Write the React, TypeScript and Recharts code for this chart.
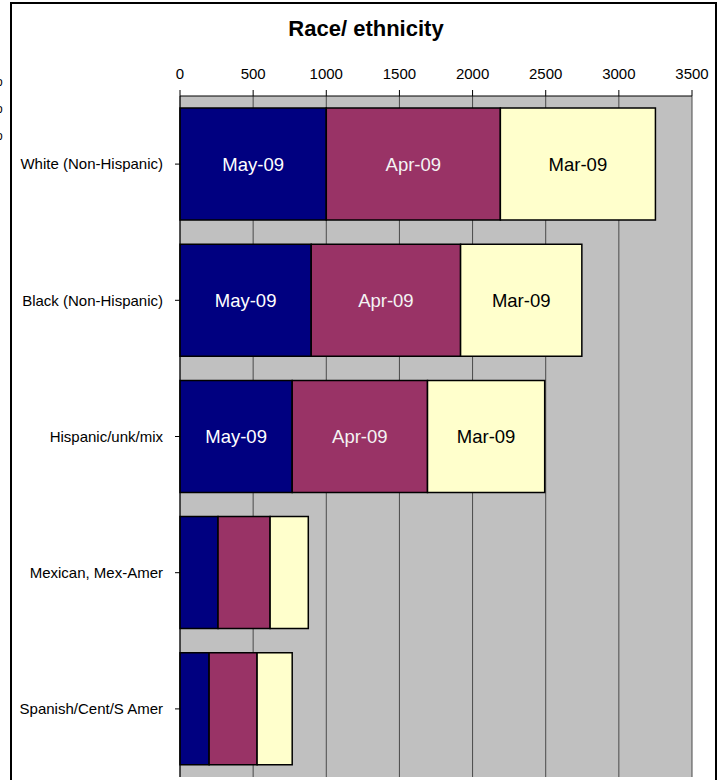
import React from "react";
import { BarChart, Bar, XAxis, YAxis, CartesianGrid, LabelList } from "recharts";

const categories = [
  "White (Non-Hispanic)",
  "Black (Non-Hispanic)",
  "Hispanic/unk/mix",
  "Mexican, Mex-Amer",
  "Spanish/Cent/S Amer",
];
const may09 = [1000, 897, 767, 260, 199];
const apr09 = [1190, 1021, 925, 356, 328];
const mar09 = [1060, 829, 801, 261, 240];
const showLabel = [true, true, true, false, false];
const xTicks = [0, 500, 1000, 1500, 2000, 2500, 3000, 3500];

const data = categories.map((name, i) => ({
  name,
  may: may09[i],
  apr: apr09[i],
  mar: mar09[i],
  mayLabel: showLabel[i] ? "May-09" : "",
  aprLabel: showLabel[i] ? "Apr-09" : "",
  marLabel: showLabel[i] ? "Mar-09" : "",
}));

const FONT = "Arial, 'Liberation Sans', sans-serif";

export default function App() {
  return (
    <div style={{ position: "relative", width: 725, height: 780, overflow: "hidden", fontFamily: FONT }}>
      <style>{`body{margin:0}`}</style>
      {/* outer frame */}
      <div
        style={{
          position: "absolute", left: 10, top: 2, width: 707, height: 800,
          border: "2px solid #000", boxSizing: "border-box",
        }}
      />
      {/* clipped text from neighbouring chart */}
      {[76, 103, 130].map((t) => (
        <div key={t} style={{ position: "absolute", left: -4, top: t, fontSize: 12, lineHeight: "12px" }}>o</div>
      ))}
      <div
        style={{
          position: "absolute", left: 0, width: 732, top: 16, textAlign: "center",
          fontFamily: "'Liberation Sans Narrow', 'Arial Narrow', Arial, sans-serif",
          fontWeight: "bold", fontSize: 22, lineHeight: "26px",
        }}
      >
        Race/ ethnicity
      </div>
      <div style={{ position: "absolute", left: 0, top: 0 }}>
        <BarChart
          width={725}
          height={780}
          data={data}
          layout="vertical"
          margin={{ top: 50, right: 33, left: 0, bottom: 3 }}
        >
          <CartesianGrid horizontal={false} fill="#C0C0C0" stroke="#4a4a4a" strokeWidth={1} />
          <XAxis
            type="number"
            orientation="top"
            domain={[0, 3500]}
            ticks={xTicks}
            height={46}
            tickSize={6}
            tickMargin={11}
            axisLine={{ stroke: "#000" }}
            tickLine={{ stroke: "#000" }}
            tick={{ fill: "#000", fontSize: 15, fontFamily: FONT }}
            interval={0}
          />
          <YAxis
            type="category"
            dataKey="name"
            width={180}
            tickSize={5}
            tickMargin={12}
            axisLine={{ stroke: "#000" }}
            tickLine={{ stroke: "#000" }}
            tick={{ fill: "#000", fontSize: 15, fontFamily: FONT }}
            interval={0}
          />
          <Bar dataKey="may" stackId="a" fill="#000080" stroke="#000" strokeWidth={1.5} barSize={112} isAnimationActive={false}>
            <LabelList dataKey="mayLabel" position="center" fill="#fff" fontSize={18.5} fontFamily={FONT} />
          </Bar>
          <Bar dataKey="apr" stackId="a" fill="#993366" stroke="#000" strokeWidth={1.5} barSize={112} isAnimationActive={false}>
            <LabelList dataKey="aprLabel" position="center" fill="#f4f4f4" fontSize={18.5} fontFamily={FONT} />
          </Bar>
          <Bar dataKey="mar" stackId="a" fill="#FFFFCC" stroke="#000" strokeWidth={1.5} barSize={112} isAnimationActive={false}>
            <LabelList dataKey="marLabel" position="center" fill="#000" fontSize={18.5} fontFamily={FONT} />
          </Bar>
        </BarChart>
      </div>
    </div>
  );
}
